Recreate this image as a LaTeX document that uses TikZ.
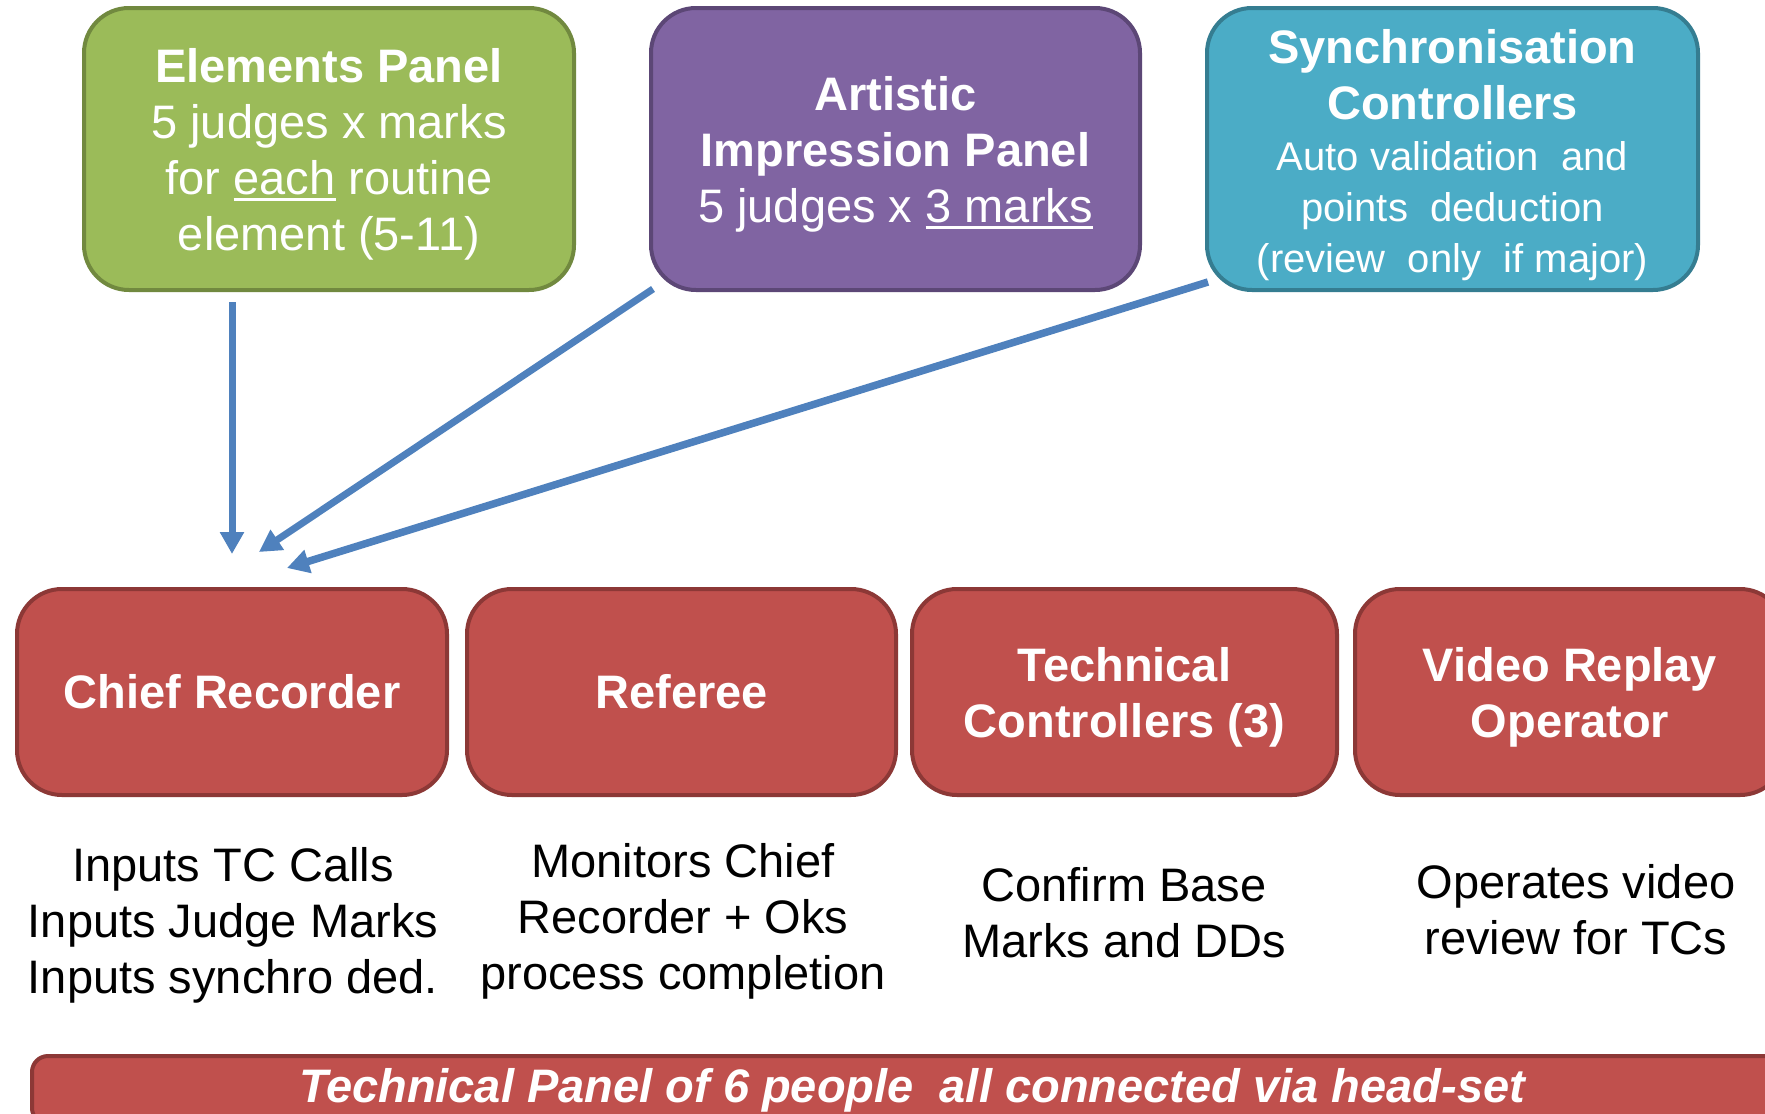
\documentclass[tikz,border=0pt]{standalone}
\usepackage{fontspec}
\setmainfont{Liberation Sans}
\usetikzlibrary{arrows.meta,calc}
\definecolor{gfill}{HTML}{9BBB59}\definecolor{gline}{HTML}{71893F}
\definecolor{pfill}{HTML}{8064A2}\definecolor{pline}{HTML}{5C4776}
\definecolor{bfill}{HTML}{4BACC6}\definecolor{bline}{HTML}{357D91}
\definecolor{rfill}{HTML}{C0504D}\definecolor{rline}{HTML}{8C3836}
\definecolor{arrblue}{HTML}{4F81BD}
\newcommand\myul[1]{\setbox0=\hbox{#1}\rlap{\copy0}\rule[-7pt]{\wd0}{3pt}}
\tikzset{
  panel/.style={rectangle, rounded corners=45pt, line width=4pt, inner sep=0pt},
  ptext/.style={text=white, align=center, font=\fontsize{47}{56}\selectfont, inner sep=0pt},
  redbox/.style={panel, fill=rfill, draw=rline, minimum height=206pt},
  desc/.style={align=center, text=black, font=\fontsize{47}{56}\selectfont, inner sep=0pt},
  arr/.style={draw=arrblue, line width=7pt, -{Triangle[length=22pt,width=23pt]}}
}
\begin{document}
\begin{tikzpicture}[x=1pt,y=-1pt]
\clip (0,0) rectangle (1765,1114);
\useasboundingbox (0,0) rectangle (1765,1114);
\fill[white] (0,0) rectangle (1765,1114);
% top panels
\node[panel, fill=gfill, draw=gline, minimum width=490pt, minimum height=282pt] (green) at (329,149) {};
\node[ptext] (greentext) at (329,154)
  {\textbf{Elements Panel}\\5 judges x marks\\for \myul{each} routine\\element (5-11)};
\node[panel, fill=pfill, draw=pline, minimum width=489pt, minimum height=282pt] (purple) at (895.5,149) {};
\node[ptext] (purpletext) at (895.5,154)
  {\textbf{Artistic}\\\textbf{Impression Panel}\\5 judges x \myul{3 marks}};
\node[panel, fill=bfill, draw=bline, minimum width=491pt, minimum height=282pt] (blue) at (1452.5,149) {};
\node[ptext] (bluetext) at (1452.5,155)
  {\textbf{Synchronisation}\\\textbf{Controllers}\\[-5pt]
   \fontsize{40}{50}\selectfont Auto validation\ \ and\\[-5pt]
   \fontsize{40}{50}\selectfont points\ \ deduction\\[-5pt]
   \fontsize{40}{50}\selectfont (review\ \ only\ \ if major)};
% red boxes
\node[redbox, minimum width=430pt] (chief) at (232,692) {};
\node[ptext] (chieftext) at (232,692) {\textbf{Chief Recorder}};
\node[redbox, minimum width=429pt] (referee) at (681.5,692) {};
\node[ptext] (reftext) at (681.5,692) {\textbf{Referee}};
\node[redbox, minimum width=425pt] (tech) at (1124.5,692) {};
\node[ptext] (techtext) at (1124.5,697) {\textbf{Technical}\\\textbf{Controllers (3)}};
\node[redbox, minimum width=430pt] (video) at (1570,692) {};
\node[ptext] (videotext) at (1570,697) {\textbf{Video Replay}\\\textbf{Operator}};
% descriptions
\node[desc] (dchief) at (233,925) {Inputs TC Calls\\Inputs Judge Marks\\Inputs synchro ded.};
\node[desc] (dref) at (683,921) {Monitors Chief\\Recorder + Oks\\process completion};
\node[desc] (dtech) at (1124,913) {Confirm Base\\Marks and DDs};
\node[desc] (dvideo) at (1576,910) {Operates video\\review for TCs};
% bottom bar
\node[rectangle, rounded corners=16pt, fill=rfill, draw=rline, line width=4pt, minimum width=1760pt,
  minimum height=68pt, inner sep=0pt, text=white, font=\fontsize{47}{56}\selectfont\bfseries\itshape]
  (bar) at (912,1090) {Technical Panel of 6 people\ \ all connected via head-set};
% arrows
\coordinate (s1) at (232,302);
\coordinate (e1) at (232,554);
\coordinate (s2) at (653,289);
\coordinate (e2) at (259,552);
\coordinate (s3) at (1208,282);
\coordinate (e3) at (287,568);
\draw[arr] (s1) -- (e1);
\draw[arr] (s2) -- (e2);
\draw[arr, line width=7.5pt] (s3) -- (e3);
\end{tikzpicture}
\end{document}
